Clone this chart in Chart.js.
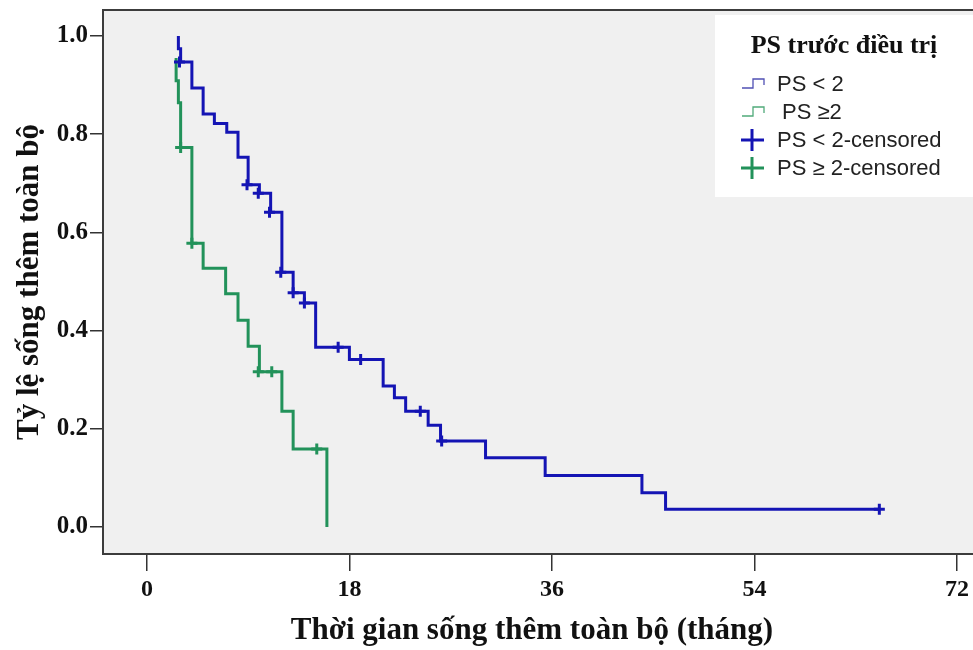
<!DOCTYPE html>
<html lang="vi">
<head>
<meta charset="UTF-8">
<title>Sống thêm toàn bộ theo PS</title>
<script src="https://cdn.jsdelivr.net/npm/chart.js"></script>
<style>
  body { margin: 0; background: #fff; overflow: hidden; }
  canvas { display: block; }
</style>
</head>
<body>
<canvas id="kmChart" width="973" height="650"></canvas>
<script>
// PS < 2 : step points (time in months, survival after the drop)
const blueTimes = [2.8, 2.8, 3.0, 4.0, 5.0, 6.0, 7.1, 8.1, 9.0, 10.0, 11.0, 12.0, 13.0, 14.0, 15.0, 18.0, 21.0, 22.0, 23.0, 25.0, 26.1, 30.1, 35.4, 44.0, 46.1, 65.1];
const blueSurv  = [1.0, 0.974, 0.947, 0.894, 0.841, 0.822, 0.804, 0.753, 0.697, 0.680, 0.641, 0.519, 0.477, 0.456, 0.366, 0.341, 0.287, 0.263, 0.236, 0.207, 0.175, 0.141, 0.105, 0.070, 0.036, 0.036];
const blueCensTimes = [2.9, 8.9, 9.9, 10.9, 11.9, 13.0, 14.0, 17.0, 19.0, 24.3, 26.2, 65.1];
const blueCensSurv  = [0.947, 0.697, 0.680, 0.641, 0.519, 0.477, 0.456, 0.366, 0.341, 0.236, 0.175, 0.036];

// PS >= 2
const greenTimes = [2.6, 2.6, 2.8, 3.0, 4.0, 5.0, 7.0, 8.1, 9.0, 10.0, 12.0, 13.0, 16.0];
const greenSurv  = [0.955, 0.909, 0.864, 0.773, 0.578, 0.527, 0.475, 0.421, 0.368, 0.316, 0.236, 0.159, 0.0];
const greenCensTimes = [3.0, 4.0, 9.9, 11.1, 15.1];
const greenCensSurv  = [0.773, 0.578, 0.316, 0.316, 0.159];

const xTicks = [0, 18, 36, 54, 72];
const yTicks = [0.0, 0.2, 0.4, 0.6, 0.8, 1.0];

const BLUE = '#1414b4';
const GREEN = '#22925a';

function pts(xs, ys) { return xs.map((x, i) => ({ x: x, y: ys[i] })); }

// grey plot background + frame (runs on past the right edge like the original)
const frame = {
  id: 'frame',
  beforeDatasetsDraw(chart) {
    const a = chart.chartArea, c = chart.ctx;
    c.save();
    c.fillStyle = '#f0f0f0';
    c.fillRect(a.left, a.top, chart.width - a.left + 10, a.bottom - a.top);
    c.restore();
  },
  afterDatasetsDraw(chart) {
    const a = chart.chartArea, c = chart.ctx;
    c.save();
    c.strokeStyle = '#3c3c3c';
    c.lineWidth = 2;
    c.strokeRect(a.left, a.top, chart.width - a.left + 10, a.bottom - a.top);
    c.restore();
  }
};

// SPSS-like legend box in the upper right corner
const kmLegend = {
  id: 'kmLegend',
  afterDraw(chart) {
    const c = chart.ctx;
    c.save();
    c.fillStyle = '#ffffff';
    c.fillRect(715, 15, 260, 182);
    c.fillStyle = '#111';
    c.font = 'bold 26px "Liberation Serif"';
    c.textAlign = 'center';
    c.textBaseline = 'middle';
    c.fillText('PS trước điều trị', 844, 46);

    c.textAlign = 'left';
    c.font = '22px "Liberation Sans"';
    c.fillStyle = '#222';
    const rows = [
      { y: 84, col: '#5050b4', step: true, text: 'PS < 2', tx: 777 },
      { y: 112, col: '#50aa7a', step: true, text: 'PS \u22652', tx: 782 },
      { y: 140, col: BLUE, step: false, text: 'PS < 2-censored', tx: 777 },
      { y: 168, col: GREEN, step: false, text: 'PS \u2265 2-censored', tx: 777 }
    ];
    rows.forEach(r => {
      c.strokeStyle = r.col;
      c.beginPath();
      if (r.step) {
        c.lineWidth = 1.3;
        c.moveTo(742, r.y + 4);
        c.lineTo(753, r.y + 4);
        c.lineTo(753, r.y - 5);
        c.lineTo(764, r.y - 5);
        c.lineTo(764, r.y + 1);
      } else {
        c.lineWidth = 3;
        c.moveTo(741, r.y);
        c.lineTo(764, r.y);
        c.moveTo(752, r.y - 11);
        c.lineTo(752, r.y + 11);
      }
      c.stroke();
      c.fillText(r.text, r.tx, r.y + 1);
    });
    c.restore();
  }
};

new Chart(document.getElementById('kmChart'), {
  type: 'scatter',
  data: {
    datasets: [
      { label: 'PS < 2-censored', data: pts(blueCensTimes, blueCensSurv), pointStyle: 'cross', pointRadius: 5.5, pointBorderWidth: 3, borderColor: BLUE, backgroundColor: BLUE, showLine: false, order: 0 },
      { label: 'PS < 2', data: pts(blueTimes, blueSurv), showLine: true, stepped: 'before', borderColor: BLUE, borderWidth: 3, pointRadius: 0, order: 1 },
      { label: 'PS \u2265 2-censored', data: pts(greenCensTimes, greenCensSurv), pointStyle: 'cross', pointRadius: 5.5, pointBorderWidth: 3, borderColor: GREEN, backgroundColor: GREEN, showLine: false, order: 2 },
      { label: 'PS \u22652', data: pts(greenTimes, greenSurv), showLine: true, stepped: 'before', borderColor: GREEN, borderWidth: 3, pointRadius: 0, order: 3 }
    ]
  },
  options: {
    responsive: false,
    animation: false,
    layout: { padding: { top: 10, right: 0, left: 0, bottom: 0 } },
    plugins: { legend: { display: false }, tooltip: { enabled: false } },
    scales: {
      x: {
        type: 'linear',
        min: -3.9,
        max: 72.35,
        afterBuildTicks: s => { s.ticks = xTicks.map(v => ({ value: v })); },
        afterFit: s => { s.height = 96; },
        grid: { drawOnChartArea: false, drawTicks: true, tickLength: 17, color: '#333', lineWidth: 1.5 },
        border: { display: false },
        ticks: { color: '#111', padding: 4, font: { family: 'Liberation Serif', size: 24, weight: 'bold' }, maxRotation: 0 },
        title: { display: true, text: 'Thời gian sống thêm toàn bộ (tháng)', color: '#111', padding: { bottom: 0 }, font: { family: 'Liberation Serif', size: 31, weight: 'bold' } }
      },
      y: {
        type: 'linear',
        min: -0.055,
        max: 1.053,
        afterBuildTicks: s => { s.ticks = yTicks.map(v => ({ value: v })); },
        afterFit: s => { s.width = 103; s.paddingTop = 0; s.paddingBottom = 0; },
        grid: { drawOnChartArea: false, drawTicks: true, tickLength: 13, color: '#333', lineWidth: 1.5 },
        border: { display: false },
        ticks: { color: '#111', padding: 2, font: { family: 'Liberation Serif', size: 25, weight: 'bold' }, callback: v => v.toFixed(1) },
        title: { display: true, text: 'Tỷ lệ sống thêm toàn bộ', color: '#111', padding: { top: 11 }, font: { family: 'Liberation Serif', size: 31, weight: 'bold' } }
      }
    }
  },
  plugins: [frame, kmLegend]
});
</script>
</body>
</html>
